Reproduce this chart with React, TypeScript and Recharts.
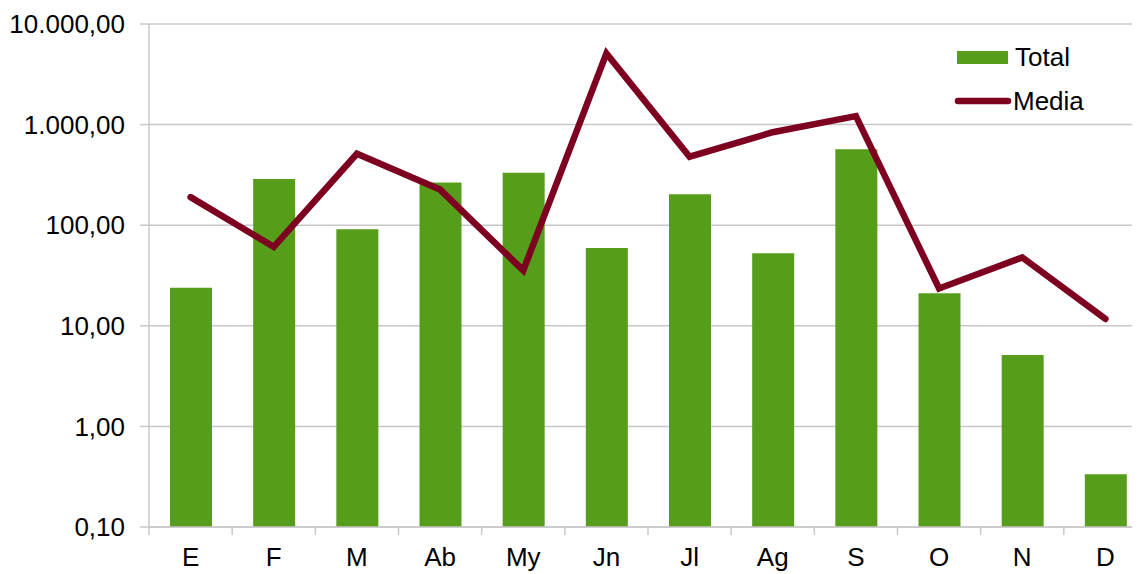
import React from 'react';
import { ComposedChart, Bar, Line, XAxis, YAxis, CartesianGrid } from 'recharts';

const months = ['E', 'F', 'M', 'Ab', 'My', 'Jn', 'Jl', 'Ag', 'S', 'O', 'N', 'D'];
const total = [23.9, 288, 91.4, 265, 333, 59.2, 203, 52.7, 569, 21.1, 5.13, 0.335];
const media = [190, 61, 513, 226, 35.5, 5100, 480, 840, 1213, 23.5, 47.8, 11.7];
const yTicks = [0.1, 1, 10, 100, 1000, 10000];

const GREEN = '#579d1c';
const WINE = '#7e0021';
const GRID = '#c8c8c8';
const FONT = '"Liberation Sans", Arial, sans-serif';
const FS = 26;

const data = months.map((m, i) => ({ month: m, Total: total[i], Media: media[i] }));

// 10000 -> "10.000,00"
const fmt = (v: number) => {
  const [int, dec] = v.toFixed(2).split('.');
  return int.replace(/\B(?=(\d{3})+(?!\d))/g, '.') + ',' + dec;
};

// category label plus a tick mark on the left edge of its band
const MonthTick = (props: any) => {
  const { x, y, payload, width, visibleTicksCount } = props;
  const band = width / visibleTicksCount;
  const axisY = y - 21;
  return (
    <g>
      <line x1={x - band / 2} x2={x - band / 2} y1={axisY} y2={axisY + 8} stroke={GRID} strokeWidth={1.5} />
      <text x={x} y={y} dy="0.69em" textAnchor="middle" fill="#000" fontSize={FS} fontFamily={FONT}>
        {payload.value}
      </text>
    </g>
  );
};

const LegendBox = () => (
  <svg
    width={200}
    height={72}
    style={{ position: 'absolute', left: 945, top: 35, display: 'block' }}
  >
    <rect x={4} y={8} width={51} height={13} fill={GREEN} />
    <text x={62} y={14} dy="0.355em" fontSize={FS} fontFamily={FONT} fill="#000">Total</text>
    <line x1={5} x2={55} y1={58} y2={58} stroke={WINE} strokeWidth={6.5} strokeLinecap="round" />
    <text x={60} y={58} dy="0.355em" fontSize={FS} fontFamily={FONT} fill="#000">Media</text>
  </svg>
);

export default function App() {
  return (
    <div style={{ position: 'relative', width: 1132, height: 566, overflow: 'hidden', background: '#fff' }}>
      <ComposedChart
        width={1150}
        height={566}
        data={data}
        margin={{ top: 16, right: 11, left: 0, bottom: 0 }}
        barSize={42}
      >
        <CartesianGrid vertical={false} stroke={GRID} strokeWidth={1.5} />
        <XAxis
          dataKey="month"
          height={47}
          stroke={GRID}
          strokeWidth={1.5}
          tickSize={0}
          tickMargin={21}
          tick={<MonthTick />}
          interval={0}
        />
        <YAxis
          scale="log"
          domain={[0.1, 10000]}
          ticks={yTicks}
          allowDataOverflow
          width={141}
          stroke={GRID}
          strokeWidth={1.5}
          tickSize={9}
          tickMargin={15}
          tickFormatter={fmt}
          tick={{ fill: '#000', fontSize: FS, fontFamily: FONT }}
        />
        <Bar dataKey="Total" fill={GREEN} isAnimationActive={false} />
        <Line
          dataKey="Media"
          type="linear"
          stroke={WINE}
          strokeWidth={6.5}
          strokeLinecap="round"
          dot={false}
          activeDot={false}
          isAnimationActive={false}
        />
      </ComposedChart>
      <LegendBox />
    </div>
  );
}
